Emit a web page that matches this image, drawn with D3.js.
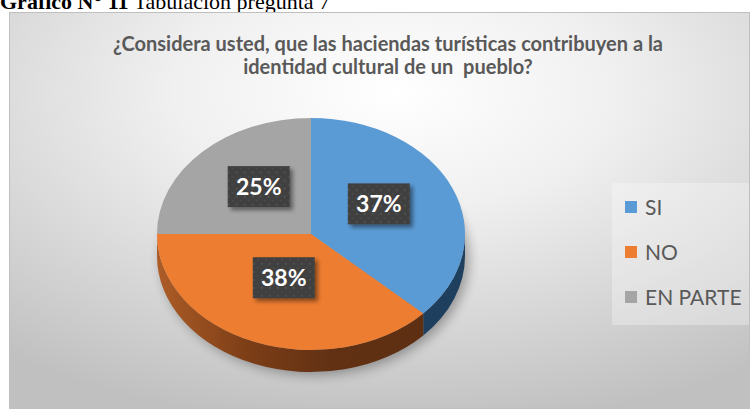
<!DOCTYPE html>
<html lang="es">
<head>
<meta charset="UTF-8">
<title>Tabulación pregunta 7</title>
<script src="https://d3js.org/d3.v7.min.js"></script>
<style>
  body { margin: 0; background: #fff; }
  svg { display: block; }
</style>
</head>
<body>
<svg id="chart"></svg>
<script>
// data
var categories = ["SI", "NO", "EN PARTE"];
var values = [37, 38, 25];
var labels = ["37%", "38%", "25%"];
var colors = ["#5B9BD5", "#ED7D31", "#A5A5A5"];
var titleLines = ["¿Considera usted, que las haciendas turísticas contribuyen a la",
                  "identidad cultural de un  pueblo?"];

var width = 751, height = 409;
var svg = d3.select("#chart").attr("width", width).attr("height", height);
var defs = svg.append("defs");

// chart area background
var bg = defs.append("radialGradient").attr("id", "bg")
    .attr("cx", "52%").attr("cy", "20%").attr("r", "85%");
bg.append("stop").attr("offset", "0%").attr("stop-color", "#ffffff");
bg.append("stop").attr("offset", "35%").attr("stop-color", "#f0f0f0");
bg.append("stop").attr("offset", "100%").attr("stop-color", "#c0c0c0");

var sideOrange = defs.append("linearGradient").attr("id", "sideNO");
sideOrange.append("stop").attr("offset", "0%").attr("stop-color", "#ad5c27");
sideOrange.append("stop").attr("offset", "35%").attr("stop-color", "#7b3d16");
sideOrange.append("stop").attr("offset", "65%").attr("stop-color", "#623114");
sideOrange.append("stop").attr("offset", "100%").attr("stop-color", "#5e2f12");
var sideColors = ["#1f3f5e", "url(#sideNO)", "#6e6e6e"];

var blur = defs.append("filter").attr("id", "pieShadow")
    .attr("x", "-20%").attr("y", "-20%").attr("width", "140%").attr("height", "140%");
blur.append("feGaussianBlur").attr("stdDeviation", 6);

var ds = defs.append("filter").attr("id", "boxShadow")
    .attr("x", "-20%").attr("y", "-20%").attr("width", "150%").attr("height", "150%");
ds.append("feDropShadow").attr("dx", 3).attr("dy", 3).attr("stdDeviation", 2)
    .attr("flood-color", "#000").attr("flood-opacity", 0.45);

// dotted texture for the data labels
var pat = defs.append("pattern").attr("id", "dots")
    .attr("width", 8).attr("height", 8).attr("patternUnits", "userSpaceOnUse");
pat.append("rect").attr("width", 8).attr("height", 8).attr("fill", "#3f3f3f");
pat.append("circle").attr("cx", 2).attr("cy", 2).attr("r", 1.1).attr("fill", "#555");
pat.append("circle").attr("cx", 6).attr("cy", 6).attr("r", 1.1).attr("fill", "#4b4b4b");

// caption above the chart (its top is cut by the page edge, as in the source)
var cap = svg.append("text").attr("x", 0).attr("y", 9)
    .attr("font-family", "'Liberation Serif', 'Times New Roman', serif")
    .attr("font-size", 22).attr("fill", "#000");
cap.append("tspan").attr("font-weight", "bold").text("Gráfico N° 11");
cap.append("tspan").text(" Tabulación pregunta 7");

// chart frame
svg.append("rect")
    .attr("x", 9.5).attr("y", 12.5).attr("width", 740).attr("height", 396)
    .attr("fill", "url(#bg)").attr("stroke", "#bfbfbf").attr("stroke-width", 1);

// title
svg.append("g").selectAll("text").data(titleLines).enter().append("text")
    .attr("x", 388).attr("y", (d, i) => 51 + i * 23)
    .attr("text-anchor", "middle")
    .attr("font-family", "Lato, 'Open Sans', sans-serif")
    .attr("font-weight", "bold").attr("font-size", 20)
    .attr("fill", "#595959")
    .style("white-space", "pre")
    .text(d => d);

// 3D pie
var cx = 311, cy = 234, rx = 154, ry = 116, depth = 22;
var k = ry / rx, D = depth / k;

var pie = d3.pie().sort(null).value(d => d);
var arcs = pie(values);
var arc = d3.arc().innerRadius(0).outerRadius(rx);

// shadow
svg.append("ellipse")
    .attr("cx", cx + 4).attr("cy", cy + depth + 3)
    .attr("rx", rx).attr("ry", ry)
    .attr("fill", "#000").attr("opacity", 0.32)
    .attr("filter", "url(#pieShadow)");

var pg = svg.append("g").attr("transform", "translate(" + cx + "," + cy + ") scale(1," + k + ")");

// side walls (front half only)
arcs.forEach(function(a, i) {
    var s = Math.max(a.startAngle, Math.PI / 2);
    var e = Math.min(a.endAngle, Math.PI * 1.5);
    if (e <= s) return;
    var p = d3.path();
    p.moveTo(rx * Math.sin(s), -rx * Math.cos(s));
    p.arc(0, 0, rx, s - Math.PI / 2, e - Math.PI / 2);
    p.lineTo(rx * Math.sin(e), -rx * Math.cos(e) + D);
    p.arc(0, D, rx, e - Math.PI / 2, s - Math.PI / 2, true);
    p.closePath();
    pg.append("path").attr("d", p.toString()).attr("fill", sideColors[i]);
});

// top faces
pg.selectAll("path.top").data(arcs).enter().append("path")
    .attr("class", "top")
    .attr("d", arc)
    .attr("fill", (d, i) => colors[i]);

// data labels
var labelArc = d3.arc().innerRadius(rx * 0.48).outerRadius(rx * 0.48);
var lab = svg.append("g").selectAll("g").data(arcs).enter().append("g")
    .attr("transform", function(d) {
        var c = labelArc.centroid(d);
        return "translate(" + (cx + c[0]) + "," + (cy + c[1] * k - 8) + ")";
    });
lab.append("rect")
    .attr("x", -31).attr("y", -20.5).attr("width", 62).attr("height", 41)
    .attr("fill", "url(#dots)").attr("filter", "url(#boxShadow)");
lab.append("text")
    .attr("text-anchor", "middle").attr("dy", "0.36em")
    .attr("font-family", "Lato, 'Open Sans', sans-serif")
    .attr("font-weight", "bold").attr("font-size", 23)
    .attr("fill", "#fff")
    .text((d, i) => labels[i]);

// legend
svg.append("rect")
    .attr("x", 612).attr("y", 183).attr("width", 137).attr("height", 142)
    .attr("fill", "#fff").attr("opacity", 0.3);
var ly = d3.scalePoint().domain(categories).range([207, 297]);
var leg = svg.append("g").selectAll("g").data(categories).enter().append("g")
    .attr("transform", d => "translate(625," + ly(d) + ")");
leg.append("rect")
    .attr("x", 0).attr("y", -6).attr("width", 12).attr("height", 12)
    .attr("fill", (d, i) => colors[i]);
leg.append("text")
    .attr("x", 20).attr("dy", "0.36em")
    .attr("font-family", "Lato, 'Open Sans', sans-serif")
    .attr("font-size", 21).attr("fill", "#595959")
    .text(d => d);
</script>
</body>
</html>
